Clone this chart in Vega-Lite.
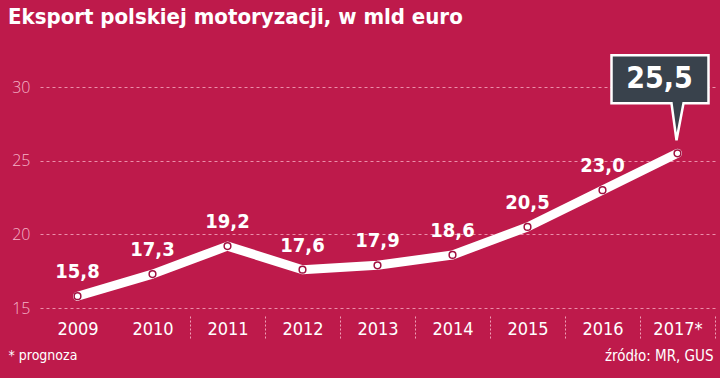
{
  "$schema": "https://vega.github.io/schema/vega-lite/v6.json",
  "autosize": {"type": "none"},
  "width": 675,
  "height": 221,
  "padding": {"left": 40, "top": 87, "right": 5, "bottom": 70},
  "background": "#be1a4b",
  "title": {
    "text": "Eksport polskiej motoryzacji, w mld euro",
    "anchor": "start",
    "frame": "group",
    "dx": -32,
    "offset": 21,
    "font": "DejaVu Sans Condensed",
    "fontSize": 22,
    "fontWeight": "bold",
    "color": "white"
  },
  "config": {
    "view": {"stroke": null},
    "font": "DejaVu Sans Condensed"
  },
  "data": {
    "values": [
      {"year": "2009", "value": 15.8, "label": "15,8"},
      {"year": "2010", "value": 17.3, "label": "17,3"},
      {"year": "2011", "value": 19.2, "label": "19,2"},
      {"year": "2012", "value": 17.6, "label": "17,6"},
      {"year": "2013", "value": 17.9, "label": "17,9"},
      {"year": "2014", "value": 18.6, "label": "18,6"},
      {"year": "2015", "value": 20.5, "label": "20,5"},
      {"year": "2016", "value": 23.0, "label": "23,0"},
      {"year": "2017*", "value": 25.5, "label": "25,5"}
    ]
  },
  "encoding": {
    "x": {
      "field": "year",
      "type": "ordinal",
      "sort": null,
      "scale": {"paddingInner": 0, "paddingOuter": 0},
      "axis": {
        "title": "źródło: MR, GUS",
        "titleX": 673,
        "titleY": 39,
        "titleAlign": "right",
        "titleAnchor": null,
        "titleBaseline": "middle",
        "titleColor": "white",
        "titleFontSize": 15,
        "titleFontWeight": "normal",
        "offset": 8,
        "domain": false,
        "labelAngle": 0,
        "labelColor": "white",
        "labelFontSize": 18,
        "labelPadding": -18,
        "labelBaseline": "top",
        "tickBand": "extent",
        "tickSize": 22,
        "tickDash": [2, 2],
        "tickWidth": 1,
        "tickColor": {"condition": {"test": "datum.value == '2009' || datum.index < 0", "value": "transparent"}, "value": "#f0a0b8"}
      }
    },
    "y": {
      "field": "value",
      "type": "quantitative",
      "scale": {"domain": [15, 30], "nice": false, "zero": false},
      "axis": {
        "title": "* prognoza",
        "titleAngle": 0,
        "titleAlign": "left",
        "titleBaseline": "middle",
        "titleX": -32,
        "titleY": 268,
        "titleColor": "white",
        "titleFontSize": 14,
        "titleFontWeight": "normal",
        "values": [15, 20, 25, 30],
        "domain": false,
        "ticks": false,
        "labelPadding": 10,
        "labelColor": "#f5b5c8",
        "labelFontSize": 16,
        "labelFont": "Open Sans",
        "labelFontWeight": 300,
        "grid": true,
        "gridColor": "#ec8eaa",
        "gridDash": [3, 3],
        "gridWidth": 1
      }
    }
  },
  "layer": [
    {
      "mark": {"type": "line", "color": "white", "strokeWidth": 9, "strokeCap": "round", "strokeJoin": "round"}
    },
    {
      "mark": {"type": "point", "filled": true, "fill": "white", "stroke": "#a01040", "strokeWidth": 1.5, "size": 45, "opacity": 1}
    },
    {
      "transform": [{"filter": "datum.year != '2017*'"}],
      "mark": {"type": "text", "color": "white", "fontSize": 20, "fontWeight": "bold", "dy": -24, "baseline": "middle"},
      "encoding": {"text": {"field": "label"}}
    },
    {
      "transform": [{"filter": "datum.year == '2017*'"}],
      "mark": {
        "type": "point",
        "shape": "M-66,-98 H31 V-50 H6 L-1,-13 L-6,-50 H-66 Z",
        "size": 4,
        "filled": true,
        "fill": "#39424c",
        "stroke": "white",
        "strokeWidth": 2.5,
        "opacity": 1
      }
    },
    {
      "transform": [{"filter": "datum.year == '2017*'"}],
      "mark": {"type": "text", "color": "white", "fontSize": 30, "fontWeight": "bold", "dx": -18, "dy": -74, "baseline": "middle"},
      "encoding": {"text": {"field": "label"}}
    }
  ]
}
